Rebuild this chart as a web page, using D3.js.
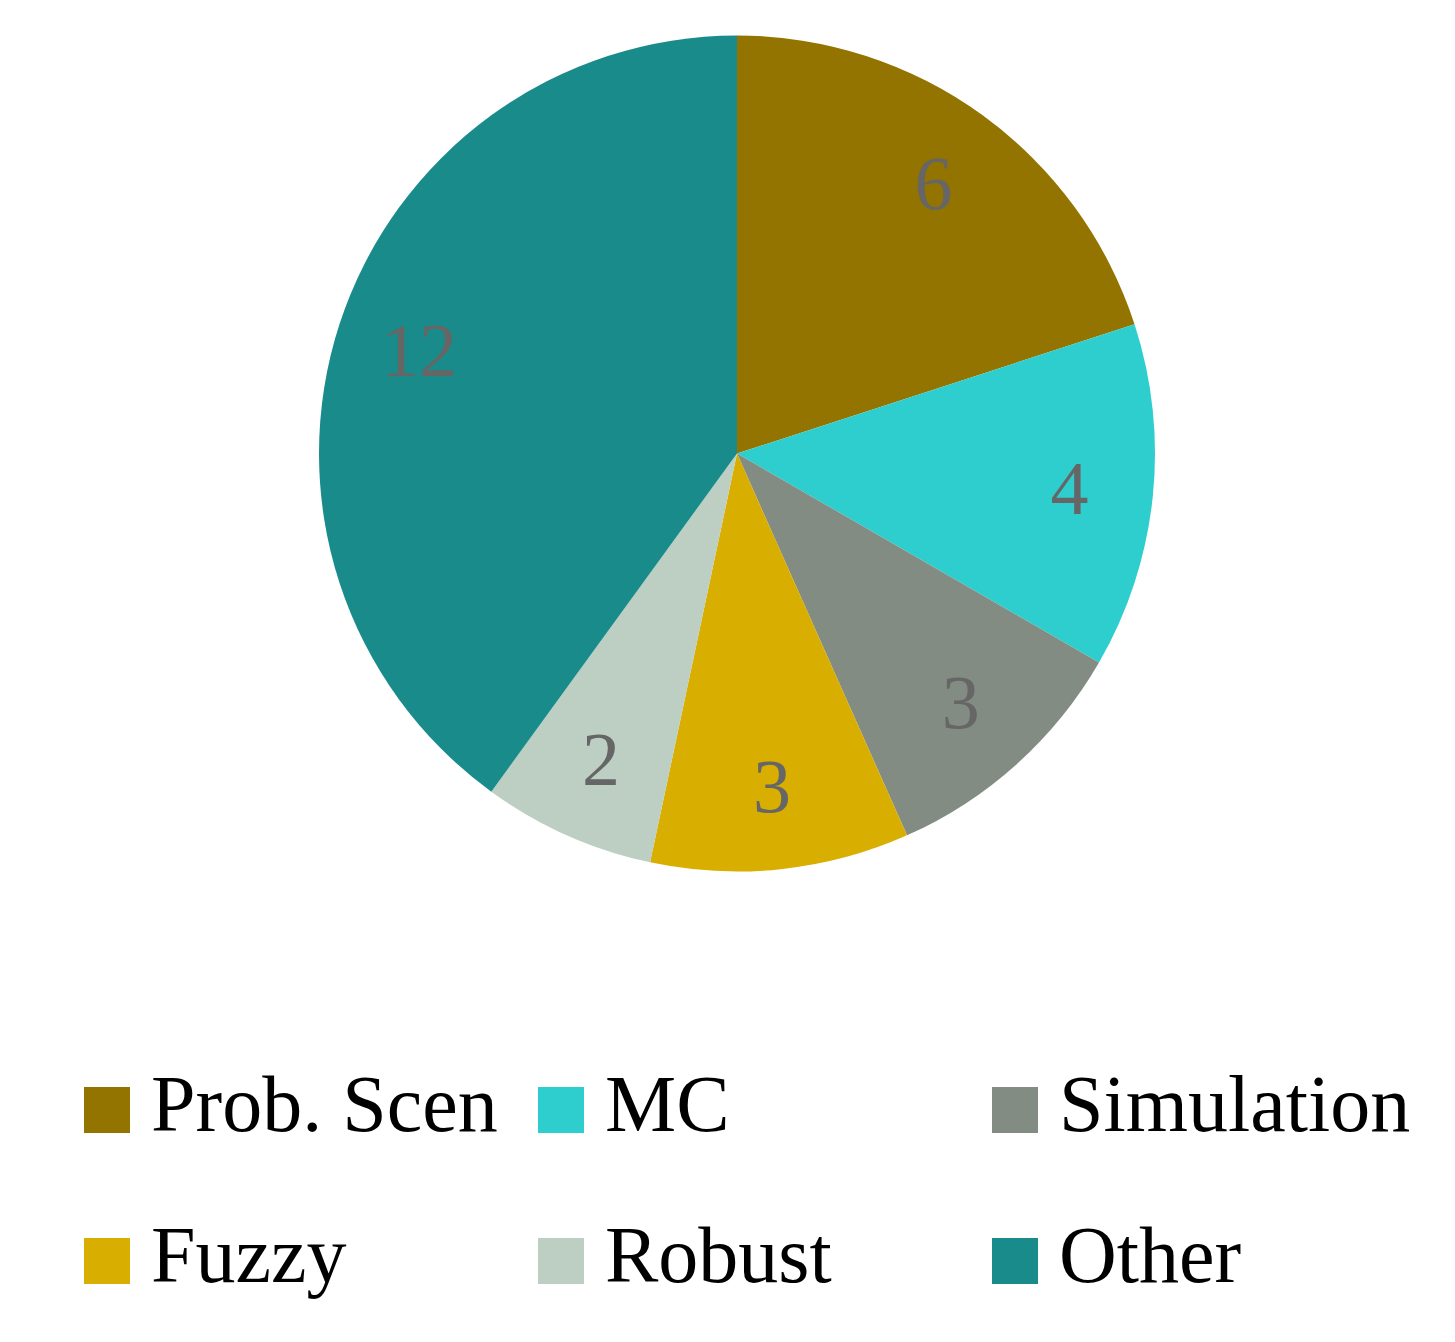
<!DOCTYPE html>
<html>
<head>
<meta charset="utf-8">
<script src="https://cdn.jsdelivr.net/npm/d3@7"></script>
<style>
  body { margin: 0; background: #fff; }
  svg { display: block; }
</style>
</head>
<body>
<div id="chart"></div>
<script>
var categories = ["Prob. Scen", "MC", "Simulation", "Fuzzy", "Robust", "Other"];
var counts = [6, 4, 3, 3, 2, 12];
var colours = ["#937400", "#2ecece", "#838c83", "#d8ae00", "#bccfc2", "#1a8b8b"];

function drawChart() {
  var svgWidth = 1455;
  var svgHeight = 1342;

  var cx = 737, cy = 453.5, radius = 418;

  var svg = d3.select("#chart")
    .append("svg")
    .attr("width", svgWidth)
    .attr("height", svgHeight);

  var data = categories.map(function(c, i) {
    return { name: c, value: counts[i], colour: colours[i] };
  });

  var pie = d3.pie()
    .value(d => d.value)
    .sort(null);

  var arc = d3.arc().innerRadius(0).outerRadius(radius);
  var labelArc = d3.arc().innerRadius(radius * 0.8).outerRadius(radius * 0.8);

  var pieGroup = svg.append("g")
    .attr("transform", `translate(${cx}, ${cy})`);

  var arcs = pie(data);

  pieGroup.selectAll("path")
    .data(arcs)
    .enter()
    .append("path")
    .attr("d", arc)
    .attr("fill", d => d.data.colour);

  pieGroup.selectAll("text")
    .data(arcs)
    .enter()
    .append("text")
    .attr("transform", d => `translate(${labelArc.centroid(d)})`)
    .attr("text-anchor", "middle")
    .attr("dy", "0.34em")
    .attr("font-family", "'Liberation Serif', 'DejaVu Serif', serif")
    .attr("font-size", "76px")
    .attr("fill", "#666666")
    .text(d => d.data.value);

  // legend, 3 columns x 2 rows
  var colX = d3.scaleOrdinal().domain([0, 1, 2]).range([84, 538, 992]);
  var rowY = d3.scaleOrdinal().domain([0, 1]).range([1131, 1282]);

  var legend = svg.append("g");
  var items = legend.selectAll("g")
    .data(data)
    .enter()
    .append("g")
    .attr("transform", (d, i) => `translate(${colX(i % 3)}, ${rowY(Math.floor(i / 3))})`);

  items.append("rect")
    .attr("x", 0)
    .attr("y", -44)
    .attr("width", 46)
    .attr("height", 46)
    .attr("fill", d => d.colour);

  items.append("text")
    .attr("x", 67)
    .attr("y", 0)
    .attr("font-family", "'Liberation Serif', 'DejaVu Serif', serif")
    .attr("font-size", "80px")
    .attr("fill", "#000")
    .text(d => d.name);
}

document.addEventListener('DOMContentLoaded', function(){
  drawChart();
});
</script>
</body>
</html>
